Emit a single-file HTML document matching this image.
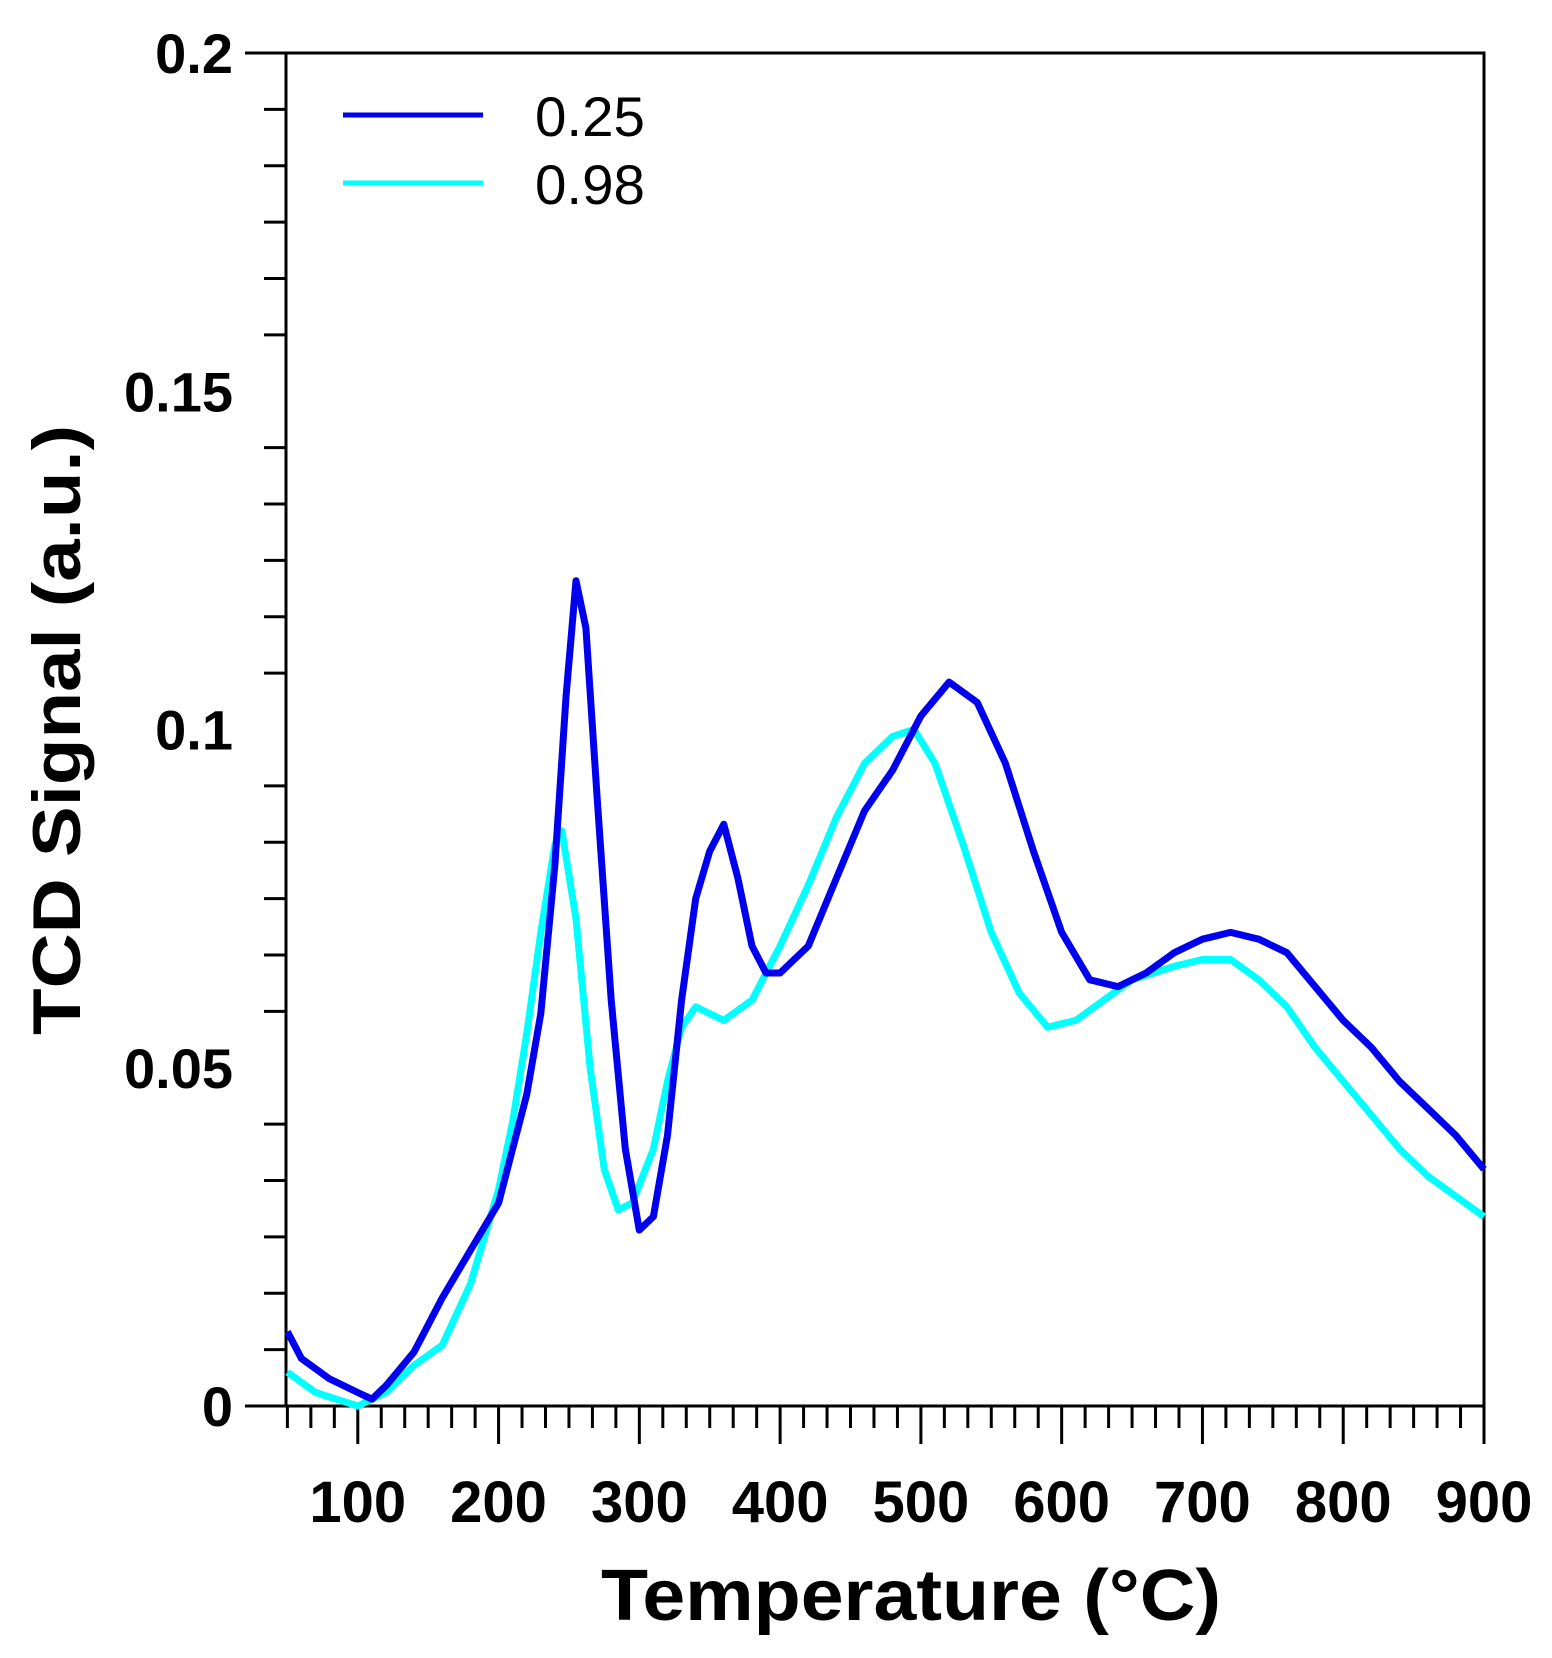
<!DOCTYPE html>
<html><head><meta charset="utf-8"><style>
html,body{margin:0;padding:0;background:#fff;}
svg{display:block;}
text{font-family:"Liberation Sans",Arial,sans-serif;}
</style></head><body>
<svg id="chart" width="1552" height="1658" viewBox="0 0 1552 1658" xmlns="http://www.w3.org/2000/svg">
<g id="axes"></g>
<g id="series"></g>
<g>
<line x1="343" y1="115" x2="483" y2="115" stroke="#0000ee" stroke-width="5"/>
<text x="535" y="136" font-size="56" textLength="110" lengthAdjust="spacingAndGlyphs">0.25</text>
<line x1="343" y1="183" x2="483" y2="183" stroke="#00ffff" stroke-width="5"/>
<text x="535" y="204" font-size="56" textLength="110" lengthAdjust="spacingAndGlyphs">0.98</text>
</g>
<text x="911" y="1620" font-size="72" font-weight="bold" text-anchor="middle" textLength="620" lengthAdjust="spacingAndGlyphs">Temperature (°C)</text>
<text x="0" y="0" font-size="68" font-weight="bold" text-anchor="middle" textLength="610" lengthAdjust="spacingAndGlyphs" transform="translate(80,730) rotate(-90)">TCD Signal (a.u.)</text>
</svg>
<script>
const xTicks=[100,200,300,400,500,600,700,800,900];
const yTicks=[0,0.05,0.1,0.15,0.2];
const yTickLabels=["0","0.05","0.1","0.15","0.2"];
const tempA=[50,60,80,100,110,120,140,160,180,200,210,220,230,240,248,255,262,270,280,290,300,310,320,330,340,350,360,370,380,390,400,420,440,460,480,500,520,540,560,580,600,620,640,660,680,700,720,740,760,780,800,820,840,860,880,900];
const signalA=[0.011,0.007,0.004,0.002,0.001,0.003,0.008,0.016,0.023,0.030,0.038,0.046,0.058,0.080,0.105,0.122,0.115,0.090,0.060,0.038,0.026,0.028,0.040,0.060,0.075,0.082,0.086,0.078,0.068,0.064,0.064,0.068,0.078,0.088,0.094,0.102,0.107,0.104,0.095,0.082,0.070,0.063,0.062,0.064,0.067,0.069,0.070,0.069,0.067,0.062,0.057,0.053,0.048,0.044,0.040,0.035];
const tempB=[50,70,100,120,140,160,180,200,210,220,230,240,245,255,265,275,285,295,310,320,330,340,360,380,400,420,440,460,480,495,510,530,550,570,590,610,630,650,680,700,720,740,760,780,800,820,840,860,880,900];
const signalB=[0.005,0.002,0.000,0.002,0.006,0.009,0.018,0.032,0.042,0.055,0.070,0.083,0.085,0.072,0.050,0.035,0.029,0.030,0.038,0.048,0.056,0.059,0.057,0.060,0.068,0.077,0.087,0.095,0.099,0.100,0.095,0.083,0.070,0.061,0.056,0.057,0.060,0.063,0.065,0.066,0.066,0.063,0.059,0.053,0.048,0.043,0.038,0.034,0.031,0.028];
const X0=286,X1=1484,Y0=1406,Y1=53,XMIN=49,XMAX=900,YMIN=0,YMAX=0.2;
function xs(v){return X0+(v-XMIN)/(XMAX-XMIN)*(X1-X0);}
function ys(v){return Y0-(v-YMIN)/(YMAX-YMIN)*(Y0-Y1);}
const NS="http://www.w3.org/2000/svg";
const axes=document.getElementById('axes');
function mk(tag,attrs,parent){const e=document.createElementNS(NS,tag);for(const k in attrs)e.setAttribute(k,attrs[k]);parent.appendChild(e);return e;}
const frame=mk('rect',{x:X0,y:Y1,width:X1-X0,height:Y0-Y1,fill:'none',stroke:'#000','stroke-width':3},axes);


const ext=mk('line',{x1:245,y1:Y0,x2:X0,y2:Y0,stroke:'#000','stroke-width':3},axes);


const ext2=mk('line',{x1:245,y1:Y1,x2:X0,y2:Y1,stroke:'#000','stroke-width':3},axes);


for(let i=0;i<=51;i++){const v=100+(i-3)*100/6; if(v<XMIN+1||v>XMAX+0.01)continue;
 const major=Math.abs(v-Math.round(v/100)*100)<0.01;
 const t=mk('line',{x1:xs(v),y1:Y0,x2:xs(v),y2:Y0+(major?38:22),stroke:'#000','stroke-width':3},axes);
 
 }
xTicks.forEach(v=>{const t=mk('text',{x:xs(v),y:1522,'font-size':58,'font-weight':'bold','text-anchor':'middle'},axes);t.textContent=String(v);
 
 });
for(let i=1;i<24;i++){const v=i*0.05/6; if(i%6===0)continue;
 const t=mk('line',{x1:X0-22,y1:ys(v),x2:X0,y2:ys(v),stroke:'#000','stroke-width':3},axes);
 
 }
yTicks.forEach((v,i)=>{const t=mk('text',{x:233,y:ys(v)+20,'font-size':56,'font-weight':'bold','text-anchor':'end'},axes);t.textContent=yTickLabels[i];
 
 });
const series=document.getElementById('series');
function draw(tx,sy,color,name){const pts=tx.map((t,i)=>xs(t).toFixed(1)+','+ys(sy[i]).toFixed(1)).join(' ');
 const p=mk('polyline',{points:pts,fill:'none',stroke:color,'stroke-width':7,'stroke-linejoin':'round'},series);
 
 }
draw(tempB,signalB,'#00ffff','line-098');
draw(tempA,signalA,'#0000ee','line-025');
</script>
</body></html>
